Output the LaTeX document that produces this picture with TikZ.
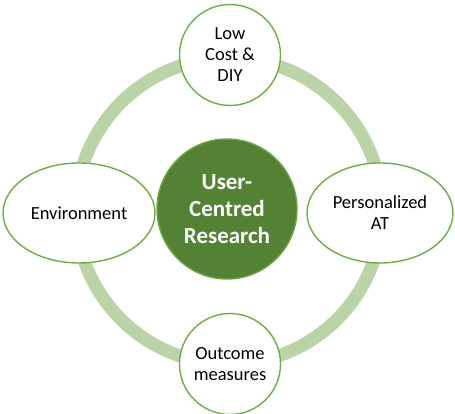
\documentclass[tikz,border=0pt]{standalone}
\usepackage{fontspec}
\setmainfont{Carlito}
\usepackage{tikz}
\usetikzlibrary{shapes.geometric}
\definecolor{ringgreen}{RGB}{186,212,168}
\definecolor{linegreen}{RGB}{112,173,71}
\definecolor{darkgreen}{RGB}{84,130,53}

\begin{document}
\begin{tikzpicture}[
  x=1pt, y=1pt,
  every node/.style={draw=linegreen, line width=1.4pt, fill=white, align=center, inner sep=0pt, font=\fontsize{18.5}{21}\selectfont},
  topic/.style={circle, minimum size=101pt},
  wide/.style={ellipse, minimum height=100pt}
]
\useasboundingbox (0,0) rectangle (455,414);
% ring behind the nodes
\draw[ringgreen, line width=13pt] (229,203) circle (153);
\node[circle, minimum size=140pt, fill=darkgreen, draw=linegreen!80!darkgreen, text=white,
  font=\bfseries\fontsize{23}{27}\selectfont] (core) at (227,205) {User-\\Centred\\Research};
\node[topic] (cost) at (230,359) {Low\\Cost \&\\DIY};
\node[topic] (outcome) at (230,50) {Outcome\\measures};
\node[wide, minimum width=152pt] (env) at (79,201) {Environment};
\node[wide, minimum width=146pt] (pat) at (380,201) {Personalized\\AT};
\end{tikzpicture}
\end{document}
